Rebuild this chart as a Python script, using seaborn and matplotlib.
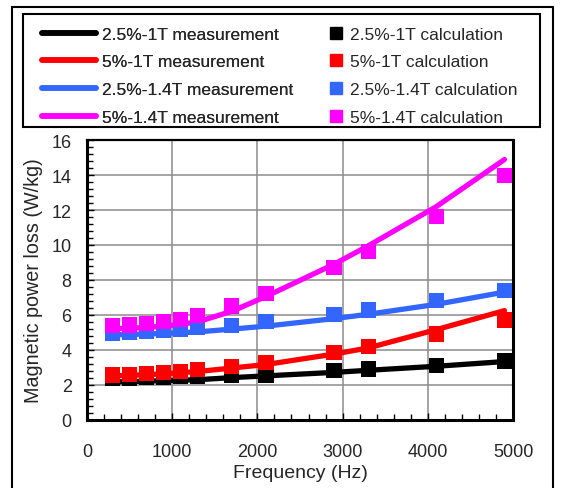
import matplotlib
matplotlib.use("Agg")
import matplotlib.pyplot as plt
from matplotlib.patches import Rectangle
from matplotlib.lines import Line2D
from matplotlib.ticker import MultipleLocator
import seaborn as sns
import pandas as pd

freq = [300, 500, 700, 900, 1100, 1300, 1700, 2100, 2900, 3300, 4100, 4900]

meas_25_1T = [2.15, 2.17, 2.2, 2.22, 2.25, 2.28, 2.4, 2.5, 2.7, 2.82, 3.05, 3.32]
meas_5_1T = [2.5, 2.53, 2.57, 2.62, 2.68, 2.75, 2.95, 3.15, 3.75, 4.1, 5.15, 6.24]
meas_25_14T = [4.85, 4.87, 4.9, 4.93, 4.97, 5.02, 5.18, 5.35, 5.78, 6.03, 6.6, 7.3]
meas_5_14T = [5.2, 5.23, 5.28, 5.35, 5.45, 5.6, 6.2, 7.05, 8.9, 9.95, 12.2, 14.9]

calc_25_1T = [2.35, 2.35, 2.4, 2.4, 2.45, 2.45, 2.5, 2.55, 2.8, 2.9, 3.08, 3.35]
calc_5_1T = [2.55, 2.6, 2.62, 2.7, 2.75, 2.85, 3.05, 3.25, 3.85, 4.2, 4.9, 5.7]
calc_25_14T = [4.95, 5.0, 5.05, 5.1, 5.15, 5.25, 5.38, 5.6, 6.0, 6.27, 6.8, 7.38]
calc_5_14T = [5.38, 5.42, 5.5, 5.6, 5.75, 5.95, 6.5, 7.2, 8.7, 9.62, 11.65, 14.0]

series = ["2.5%-1T", "5%-1T", "2.5%-1.4T", "5%-1.4T"]
colors = ["#000000", "#FF0000", "#3366FF", "#FF00FF"]
meas = [meas_25_1T, meas_5_1T, meas_25_14T, meas_5_14T]
calc = [calc_25_1T, calc_5_1T, calc_25_14T, calc_5_14T]

sns.set_theme(style="white")
plt.rcParams["font.family"] = ["Liberation Sans", "DejaVu Sans"]

fig = plt.figure(figsize=(5.62, 4.89), dpi=100)
ax = fig.add_axes([87 / 562, 1 - 420.5 / 489, (513 - 87) / 562, (420.5 - 141.3) / 489])

rows_m = []
rows_c = []
for name, m, c in zip(series, meas, calc):
    for f, v in zip(freq, m):
        rows_m.append({"Frequency": f, "Loss": v, "Series": name})
    for f, v in zip(freq, c):
        rows_c.append({"Frequency": f, "Loss": v, "Series": name})
df_m = pd.DataFrame(rows_m)
df_c = pd.DataFrame(rows_c)
palette = dict(zip(series, colors))

sns.lineplot(data=df_m, x="Frequency", y="Loss", hue="Series", palette=palette,
             linewidth=3.8, ax=ax, legend=False, zorder=3, solid_capstyle="round")
sns.scatterplot(data=df_c, x="Frequency", y="Loss", hue="Series", palette=palette,
                marker="s", s=120, linewidth=0, ax=ax, legend=False, zorder=4)

ax.set_xlim(0, 5000)
ax.set_ylim(0, 16)
ax.xaxis.set_major_locator(MultipleLocator(1000))
ax.xaxis.set_minor_locator(MultipleLocator(200))
ax.yaxis.set_major_locator(MultipleLocator(2))
ax.yaxis.set_minor_locator(MultipleLocator(0.4))
ax.grid(True, which="major", color="#8c8c8c", linewidth=1.1)
ax.set_axisbelow(True)
for sp in ax.spines.values():
    sp.set_color("black")
    sp.set_linewidth(2.2)
ax.spines["top"].set_linewidth(1.6)
ax.tick_params(axis="both", which="both", direction="in", color="black",
               bottom=True, left=True, top=False, right=False)
ax.tick_params(axis="both", which="major", length=5, width=1, labelsize=13)
ax.tick_params(axis="both", which="minor", length=4, width=1)
ax.tick_params(axis="x", which="major", pad=17)
ax.tick_params(axis="y", which="major", pad=11)
ax.set_xlabel("Frequency (Hz)", fontsize=14, labelpad=3)
ax.set_ylabel("Magnetic power loss (W/kg)", fontsize=14.2, labelpad=6)

# legend frame
fig.patches.append(Rectangle((23 / 562, 1 - 128 / 489), (540 - 23) / 562, (128 - 15) / 489,
                             transform=fig.transFigure, fill=False, edgecolor="black",
                             linewidth=1.5, zorder=1))
# outer frame
fig.patches.append(Rectangle((12 / 562, -0.02), (553 - 12) / 562, 1.02 - 8 / 489,
                             transform=fig.transFigure, fill=False, edgecolor="black",
                             linewidth=1.5, zorder=1))

h_meas = [Line2D([], [], color=c, linewidth=4, solid_capstyle="round") for c in colors]
h_calc = [Line2D([], [], color=c, marker="s", markersize=9, linestyle="none") for c in colors]

leg1 = fig.legend(h_meas, [s + " measurement" for s in series], loc="upper left",
                  bbox_to_anchor=(33 / 562, 1 - 19 / 489), frameon=False, fontsize=12.5,
                  handlelength=3.15, handletextpad=0.3, labelspacing=0.72, borderpad=0)
leg2 = fig.legend(h_calc, [s + " calculation" for s in series], loc="upper left",
                  bbox_to_anchor=(320 / 562, 1 - 19 / 489), frameon=False, fontsize=12.5,
                  handlelength=0.8, handletextpad=0.45, labelspacing=0.72, borderpad=0)
fig.add_artist(leg1)

fig.savefig("out.png", dpi=100)
